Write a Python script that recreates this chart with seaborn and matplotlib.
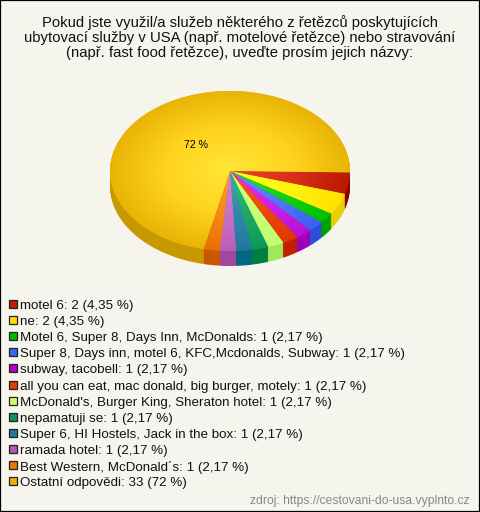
import numpy as np
import seaborn as sns
import matplotlib
matplotlib.use("Agg")
import matplotlib.pyplot as plt
from matplotlib.colors import LinearSegmentedColormap
from matplotlib.patches import Rectangle

title = ("Pokud jste využil/a služeb některého z řetězců poskytujících\n"
         "ubytovací služby v USA (např. motelové řetězce) nebo stravování\n"
         "(např. fast food řetězce), uveďte prosím jejich názvy:")
labels = ["motel 6", "ne", "Motel 6, Super 8, Days Inn, McDonalds",
          "Super 8, Days inn, motel 6, KFC,Mcdonalds, Subway", "subway, tacobell",
          "all you can eat, mac donald, big burger, motely",
          "McDonald's, Burger King, Sheraton hotel", "nepamatuji se",
          "Super 6, HI Hostels, Jack in the box", "ramada hotel",
          "Best Western, McDonald´s", "Ostatní odpovědi"]
counts = [2, 2, 1, 1, 1, 1, 1, 1, 1, 1, 1, 33]
percents = ["4,35", "4,35", "2,17", "2,17", "2,17", "2,17", "2,17", "2,17", "2,17", "2,17", "2,17", "72"]
legend_colors = ["#C41E00", "#FFE000", "#00B800", "#3C66F0", "#B400C8", "#E04000",
                 "#C8FF70", "#109060", "#1C7C9C", "#B858B8", "#E87800", "#E8B400"]
inner_colors = ["#E8452A", "#FFFF20", "#28E028", "#6A8CFF", "#E830FF", "#FF5518",
                "#D0FF80", "#30C080", "#48A8B0", "#D880D8", "#FFA028", "#FFE835"]
mid_colors = ["#D83018", "#FFF410", "#14D014", "#5078F8", "#D020E8", "#F04808",
              "#C8FF78", "#20A868", "#3088A8", "#C870C8", "#F48818", "#FFD21F"]
edge_colors = ["#B81A00", "#FFE000", "#00C000", "#3C60F0", "#B810D0", "#E03800",
               "#C0FF70", "#109858", "#2078A0", "#B860B8", "#E87000", "#E8B405"]
side_colors = ["#8B0000", "#E8D000", "#00A000", "#2850D8", "#A000B8", "#C02000",
               "#A0E858", "#008040", "#006880", "#A048A0", "#C85800", "#C89800"]
BG = "#F5F5EE"
START = -1

sns.set_theme(style="white")
plt.rcParams["font.family"] = ["Liberation Sans", "DejaVu Sans"]

fig = plt.figure(figsize=(4.8, 5.12), dpi=100, facecolor=BG)
ax = fig.add_axes([0, 0, 1, 1])
ax.set_facecolor(BG)

# side of the pie: the same pie stacked downwards
for off in np.arange(15, 0, -1):
    ax.pie(counts, colors=sns.color_palette(side_colors), startangle=START, counterclock=False,
           center=(0, -off / 80), wedgeprops={"linewidth": 0})

# top of the pie, every wedge gets a radial gradient
wedges, _ = ax.pie(counts, colors=sns.color_palette(edge_colors), startangle=START, counterclock=False,
                   wedgeprops={"linewidth": 0})
xx, yy = np.meshgrid(np.linspace(-1, 1, 500), np.linspace(-1, 1, 500))
rr = np.sqrt(xx ** 2 + yy ** 2)
for w, c1, c2, c3 in zip(wedges, inner_colors, mid_colors, edge_colors):
    cmap = LinearSegmentedColormap.from_list("w", [(0, c1), (0.55, c2), (1, c3)])
    im = ax.imshow(rr, cmap=cmap, vmin=0, vmax=1, extent=(-1, 1, -1, 1), origin="lower",
                   aspect="auto", zorder=3)
    im.set_clip_path(w)

ax.set_aspect("auto")
ax.set_xlim((0 - 230) / 120, (480 - 230) / 120)
ax.set_ylim((171 - 512) / 80, 171 / 80)
ax.axis("off")


def fpos(x, y):
    return x / 480, 1 - y / 512


fig.text(*fpos(240, 37.5), title, ha="center", va="center", fontsize=10.7, color="#111111",
         linespacing=1.12)
fig.text(*fpos(196, 145), "72 %", ha="center", va="center", fontsize=7.6, color="black", zorder=5)

row = 304
for lab, n, p, col in zip(labels, counts, percents, legend_colors):
    fig.add_artist(Rectangle(fpos(9, row + 4), 8 / 480, 8 / 512, transform=fig.transFigure,
                             facecolor=col, edgecolor="#222222", linewidth=0.9))
    fig.text(*fpos(20, row + 2), f"{lab}: {n} ({p} %)", ha="left", va="center", fontsize=9.6, color="#111111")
    row += 16.1

fig.text(*fpos(470, 501), "zdroj: https://cestovani-do-usa.vyplnto.cz", ha="right", va="center",
         fontsize=8.75, color="#888888")
fig.add_artist(Rectangle((0, 0), 1, 1, transform=fig.transFigure, fill=False, edgecolor="black", linewidth=1.6))

plt.savefig("out.png", dpi=100, facecolor=BG)
